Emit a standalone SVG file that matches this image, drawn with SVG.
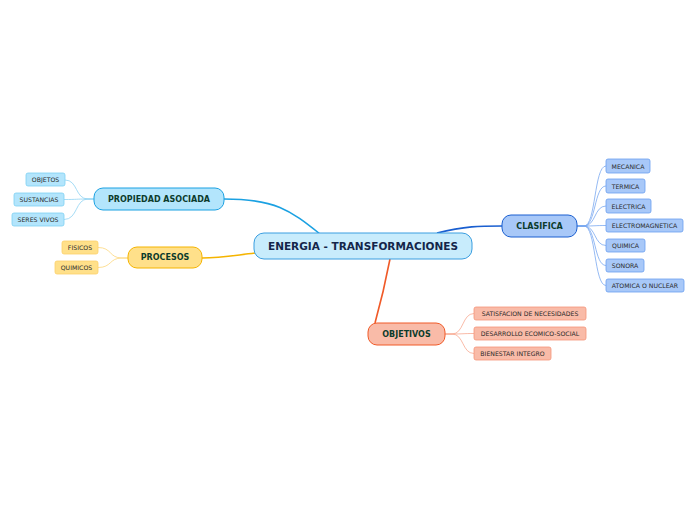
<svg xmlns="http://www.w3.org/2000/svg" width="696" height="520" viewBox="0 0 696 520">
<style>
text{font-family:"DejaVu Sans",Verdana,sans-serif;text-anchor:middle;dominant-baseline:central}
.main{font-size:10.5px;font-weight:bold;fill:#14264a}
.mid{font-size:8px;font-weight:bold;fill:#0c3b2c}
.leaf{font-size:6.2px;fill:#2a2a2a}
.c path{fill:none}
</style>
<rect width="696" height="520" fill="#ffffff"/>
<g class="c" id="connectors">
<path d="M224,199 C275,199 290,210 320,234" stroke="#1ba1e2" stroke-width="1.6"/>
<path d="M437,233 C465,226 480,226 502,226" stroke="#1a5fd0" stroke-width="1.6"/>
<path d="M255,253 C230,256 220,258 202,258" stroke="#f5b400" stroke-width="1.6"/>
<path d="M390,259 C385,285 380,305 375,323" stroke="#f05a28" stroke-width="1.6"/>
<g stroke="#8fd3f3" stroke-width="0.8">
<path d="M94,199 L88,199 C75,199 78,180 65,180"/>
<path d="M94,199 L88,199 C75,199 78,199.5 64,199.5"/>
<path d="M94,199 L88,199 C75,199 78,219.5 64,219.5"/>
</g>
<g stroke="#fcd77a" stroke-width="0.8">
<path d="M128,258 L122,258 C109,258 112,247.5 98,247.5"/>
<path d="M128,258 L122,258 C109,258 112,267.5 98,267.5"/>
</g>
<g stroke="#7aa8f0" stroke-width="0.8">
<path d="M577,226 L584,226 C596,226 594,166 606,166"/>
<path d="M577,226 L584,226 C596,226 594,186 606,186"/>
<path d="M577,226 L584,226 C596,226 594,206 606,206"/>
<path d="M577,226 L584,226 C596,226 594,225.5 606,225.5"/>
<path d="M577,226 L584,226 C596,226 594,245.5 606,245.5"/>
<path d="M577,226 L584,226 C596,226 594,265.5 606,265.5"/>
<path d="M577,226 L584,226 C596,226 594,285.5 606,285.5"/>
</g>
<g stroke="#f8a890" stroke-width="0.8">
<path d="M445,334 L452,334 C464,334 462,313.5 474,313.5"/>
<path d="M445,334 L452,334 C464,334 462,333.5 474,333.5"/>
<path d="M445,334 L452,334 C464,334 462,353.5 474,353.5"/>
</g>
</g>
<g id="center">
<rect x="254" y="233" width="218" height="26" rx="10" fill="#c8ecfc" stroke="#3a9ee0" stroke-width="1"/>
<text class="main" x="363" y="246">ENERGIA - TRANSFORMACIONES</text>
</g>
<g id="propiedad">
<rect x="94" y="188" width="130" height="22" rx="9" fill="#b3e5fc" stroke="#1ba1e2" stroke-width="1"/>
<text class="mid" x="159" y="199">PROPIEDAD ASOCIADA</text>
</g>
<g id="objetos"><rect x="26" y="173" width="39" height="13" rx="2" fill="#b3e5fc" stroke="#7fd0f3" stroke-width="0.8"/><text class="leaf" x="45.5" y="179.5">OBJETOS</text></g>
<g id="sustancias"><rect x="14" y="193" width="50" height="13" rx="2" fill="#b3e5fc" stroke="#7fd0f3" stroke-width="0.8"/><text class="leaf" x="39" y="199.5">SUSTANCIAS</text></g>
<g id="seres"><rect x="12" y="213" width="52" height="13" rx="2" fill="#b3e5fc" stroke="#7fd0f3" stroke-width="0.8"/><text class="leaf" x="38" y="219.5">SERES VIVOS</text></g>
<g id="procesos">
<rect x="128" y="247" width="74" height="21" rx="9" fill="#ffe08a" stroke="#f5b400" stroke-width="1"/>
<text class="mid" x="165" y="257.5">PROCESOS</text>
</g>
<g id="fisicos"><rect x="62" y="241" width="36" height="13" rx="2" fill="#ffe08a" stroke="#fcd06a" stroke-width="0.8"/><text class="leaf" x="80" y="247.5">FISICOS</text></g>
<g id="quimicos1"><rect x="55" y="261" width="43" height="13" rx="2" fill="#ffe08a" stroke="#fcd06a" stroke-width="0.8"/><text class="leaf" x="76.5" y="267.5">QUIMICOS</text></g>
<g id="clasifica">
<rect x="502" y="215" width="75" height="22" rx="9" fill="#a8c8f8" stroke="#1a5fd0" stroke-width="1"/>
<text class="mid" x="539.5" y="226">CLASIFICA</text>
</g>
<g id="mecanica"><rect x="606" y="159" width="44" height="14" rx="2" fill="#a8c8f8" stroke="#6a9ef0" stroke-width="0.8"/><text class="leaf" x="628" y="166">MECANICA</text></g>
<g id="termica"><rect x="606" y="179" width="39" height="14" rx="2" fill="#a8c8f8" stroke="#6a9ef0" stroke-width="0.8"/><text class="leaf" x="625.5" y="186">TERMICA</text></g>
<g id="electrica"><rect x="606" y="199" width="45" height="14" rx="2" fill="#a8c8f8" stroke="#6a9ef0" stroke-width="0.8"/><text class="leaf" x="628.5" y="206">ELECTRICA</text></g>
<g id="electromagnetica"><rect x="606" y="219" width="77" height="13" rx="2" fill="#a8c8f8" stroke="#6a9ef0" stroke-width="0.8"/><text class="leaf" x="644.5" y="225.5">ELECTROMAGNETICA</text></g>
<g id="quimica"><rect x="606" y="239" width="39" height="13" rx="2" fill="#a8c8f8" stroke="#6a9ef0" stroke-width="0.8"/><text class="leaf" x="625.5" y="245.5">QUIMICA</text></g>
<g id="sonora"><rect x="606" y="259" width="38" height="13" rx="2" fill="#a8c8f8" stroke="#6a9ef0" stroke-width="0.8"/><text class="leaf" x="625" y="265.5">SONORA</text></g>
<g id="atomica"><rect x="606" y="279" width="78" height="13" rx="2" fill="#a8c8f8" stroke="#6a9ef0" stroke-width="0.8"/><text class="leaf" x="645" y="285.5">ATOMICA O NUCLEAR</text></g>
<g id="objetivos">
<rect x="368" y="323" width="77" height="22" rx="9" fill="#f9bba8" stroke="#f05a28" stroke-width="1"/>
<text class="mid" x="406.5" y="334">OBJETIVOS</text>
</g>
<g id="satisfacion"><rect x="474" y="307" width="112" height="13" rx="2" fill="#f9bba8" stroke="#f5957a" stroke-width="0.8"/><text class="leaf" x="530" y="313.5">SATISFACION DE NECESIDADES</text></g>
<g id="desarrollo"><rect x="474" y="327" width="112" height="13" rx="2" fill="#f9bba8" stroke="#f5957a" stroke-width="0.8"/><text class="leaf" x="530" y="333.5">DESARROLLO ECOMICO-SOCIAL</text></g>
<g id="bienestar"><rect x="474" y="347" width="77" height="13" rx="2" fill="#f9bba8" stroke="#f5957a" stroke-width="0.8"/><text class="leaf" x="512.5" y="353.5">BIENESTAR INTEGRO</text></g>
</svg>
